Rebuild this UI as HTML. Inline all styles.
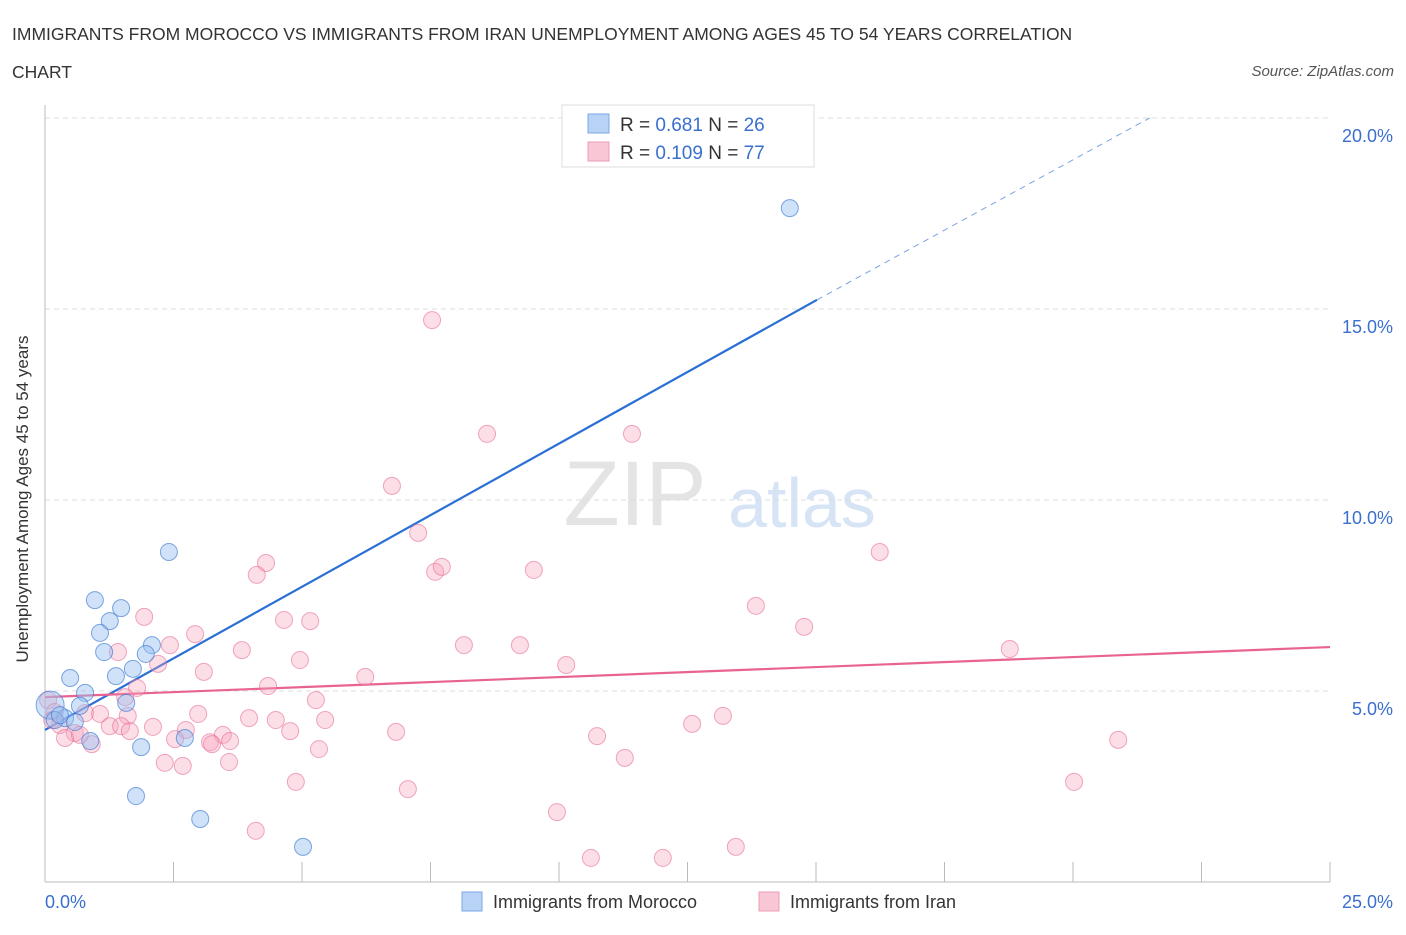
<!DOCTYPE html>
<html><head><meta charset="utf-8"><style>
body{margin:0;background:#fff;font-family:"Liberation Sans",sans-serif;}
svg text{font-family:"Liberation Sans",sans-serif;}
</style></head><body>
<svg id="chart" width="1406" height="930">
<text x="12" y="40" font-size="17.5" fill="#333">IMMIGRANTS FROM MOROCCO VS IMMIGRANTS FROM IRAN UNEMPLOYMENT AMONG AGES 45 TO 54 YEARS CORRELATION</text>
<text x="12" y="78" font-size="17.5" fill="#333">CHART</text>
<text x="1394" y="76" font-size="15" fill="#555" font-style="italic" text-anchor="end">Source: ZipAtlas.com</text>
<g>
<text x="635" y="525" font-size="92" fill="#e4e4e4" font-family="Liberation Serif,serif" text-anchor="middle">ZIP</text>
<text x="802" y="527" font-size="70" fill="#d6e4f5" text-anchor="middle">atlas</text>
</g>
<g id="grid"></g>
<g id="axes"></g>
<g id="lines"></g>
<g id="points"></g>
<text x="24" y="495" font-size="17" fill="#333" text-anchor="middle" transform="rotate(-90 28 495)">Unemployment Among Ages 45 to 54 years</text>
<g>
<rect x="562" y="105" width="252" height="62" fill="#fff" stroke="#ddd"/>
<rect x="588" y="114" width="21" height="19" fill="#b9d3f6" stroke="#7aa7e6"/>
<rect x="588" y="142" width="21" height="19" fill="#f9c6d5" stroke="#ec9cb5"/>
<text x="620" y="131" font-size="19" fill="#333">R = <tspan fill="#3a6fd0">0.681</tspan>   N = <tspan fill="#3a6fd0">26</tspan></text>
<text x="620" y="159" font-size="19" fill="#333">R = <tspan fill="#3a6fd0">0.109</tspan>   N = <tspan fill="#3a6fd0">77</tspan></text>
</g>
<g>
<rect x="462" y="892" width="20" height="19" fill="#b9d3f6" stroke="#7aa7e6"/>
<text x="493" y="908" font-size="18" fill="#333">Immigrants from Morocco</text>
<rect x="759" y="892" width="20" height="19" fill="#f9c6d5" stroke="#ec9cb5"/>
<text x="790" y="908" font-size="18" fill="#333">Immigrants from Iran</text>
</g>
</svg>
<script>
const moroccoX=[14.49,2.41,0.97,1.48,1.26,1.07,2.08,1.15,1.96,1.71,1.38,0.49,0.78,1.58,0.68,0.10,0.39,0.19,0.58,0.88,2.72,1.87,1.77,3.02,5.02,0.29];
const moroccoY=[17.64,8.64,7.38,7.17,6.83,6.52,6.20,6.02,5.97,5.58,5.39,5.34,4.95,4.69,4.61,4.63,4.29,4.24,4.19,3.69,3.77,3.53,2.25,1.65,0.92,4.37];
const iranX=[7.53,8.60,11.42,6.75,7.26,16.24,4.30,4.12,7.59,7.72,9.51,13.83,1.93,4.65,5.16,2.92,14.77,8.15,9.24,18.77,2.43,3.83,1.42,2.20,4.96,10.14,3.09,6.23,4.34,1.79,5.27,1.56,0.78,1.07,2.98,1.61,3.97,4.49,5.45,13.19,12.59,1.26,2.10,2.74,4.77,6.83,3.46,1.48,0.29,0.58,1.65,0.39,0.91,2.53,3.21,3.60,10.74,20.88,0.68,3.25,5.33,11.28,2.33,2.68,3.58,4.88,20.02,7.06,9.96,4.10,10.62,12.02,13.44,0.06,0.19,0.14];
const iranY=[14.71,11.73,11.73,10.37,9.14,8.64,8.35,8.04,8.12,8.25,8.17,7.23,6.94,6.86,6.83,6.49,6.68,6.20,6.20,6.10,6.20,6.07,6.02,5.71,5.81,5.68,5.50,5.37,5.13,5.08,4.76,4.84,4.42,4.40,4.40,4.35,4.29,4.24,4.24,4.35,4.14,4.08,4.06,3.98,3.95,3.93,3.85,4.08,4.11,3.90,3.95,3.77,3.61,3.74,3.66,3.69,3.82,3.72,3.85,3.61,3.48,3.25,3.12,3.04,3.14,2.62,2.62,2.43,1.83,1.34,0.63,0.63,0.92,4.76,4.45,4.24];
const blueTrend=[[0,3.98],[15.02,15.24]];
const blueDash=[[15.02,15.24],[21.49,20.0]];
const pinkTrend=[[0,4.84],[25,6.15]];
const yTicks=[5,10,15,20];
const yTickLabels=["5.0%","10.0%","15.0%","20.0%"];
const xTicks=[0,2.5,5,7.5,10,12.5,15,17.5,20,22.5,25];
const xLabels=[[0,"0.0%"],[25,"25.0%"]];

const NS="http://www.w3.org/2000/svg";
const sx=v=>45+v/25*1285;
const sy=v=>882-v/5*191;
function mk(tag,attrs,parent){const e=document.createElementNS(NS,tag);for(const k in attrs)e.setAttribute(k,attrs[k]);document.getElementById(parent).appendChild(e);return e;}

yTicks.forEach((t,i)=>{
  const g=mk('line',{x1:45,x2:1330,y1:sy(t),y2:sy(t),stroke:'#ddd','stroke-dasharray':'5,4'},'grid');
  
  
  const l=mk('text',{x:1393,y:sy(t)+24,'font-size':18,fill:'#3a6fd0','text-anchor':'end'},'grid');
  l.textContent=yTickLabels[i];
  
  
});
const ya=mk('line',{x1:45,x2:45,y1:105,y2:882,stroke:'#bbb'},'axes');


const xa=mk('line',{x1:45,x2:1330,y1:882,y2:882,stroke:'#bbb'},'axes');


xTicks.forEach(t=>{
  const k=mk('line',{x1:sx(t),x2:sx(t),y1:862,y2:882,stroke:'#bbb'},'axes');
  
  
});
xLabels.forEach(([v,s],i)=>{
  const l=mk('text',{x:i==0?sx(v):1393,y:908,'font-size':18,fill:'#3a6fd0','text-anchor':i==0?'start':'end'},'axes');
  l.textContent=s;
  
  
});
function pt(arr,stroke,w,dash,name){
  const a={x1:sx(arr[0][0]),y1:sy(arr[0][1]),x2:sx(arr[1][0]),y2:sy(arr[1][1]),stroke:stroke,'stroke-width':w};
  if(dash)a['stroke-dasharray']=dash;
  const l=mk('line',a,'lines');
  
  
}
pt(blueTrend,'#2a6fd6',2.2,null,'morocco-trendline');
pt(blueDash,'#7aa3e0',1,'6,5','morocco-trendline-extension');
pt(pinkTrend,'#e8648f',2.2,null,'iran-trendline');
iranX.forEach((x,i)=>{
  const c=mk('circle',{cx:sx(x),cy:sy(iranY[i]),r:8.5,fill:'rgba(245,160,185,0.35)',stroke:'rgba(232,110,150,0.6)','stroke-width':1},'points');
  
  
});
moroccoX.forEach((x,i)=>{
  const c=mk('circle',{cx:sx(x),cy:sy(moroccoY[i]),r:i==15?14:8.5,fill:'rgba(150,190,240,0.45)',stroke:'rgba(60,120,210,0.65)','stroke-width':1},'points');
  
  
});
</script>
</body></html>
